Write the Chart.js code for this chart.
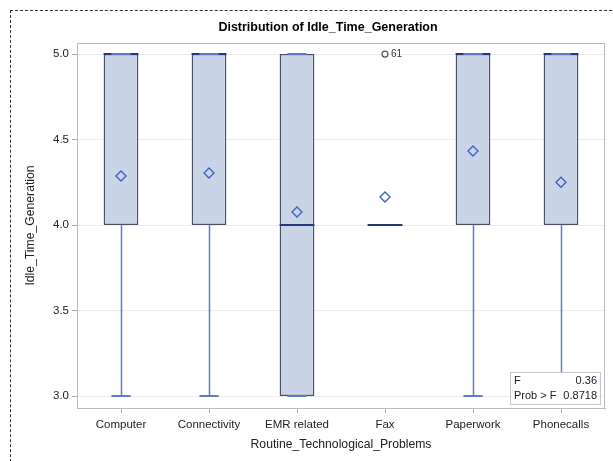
<!DOCTYPE html>
<html>
<head>
<meta charset="utf-8">
<title>Distribution of Idle_Time_Generation</title>
<script src="https://cdn.jsdelivr.net/npm/chart.js@4/dist/chart.umd.min.js"></script>
<style>
  html, body { margin: 0; padding: 0; background: #fff; overflow: hidden; }
  #wrap { position: relative; width: 613px; height: 461px; }
  #frame { position: absolute; left: 10px; top: 10px; width: 660px; height: 520px;
           border: 1px dashed #333; pointer-events: none; }
  canvas { position: absolute; left: 0; top: 0; }
</style>
</head>
<body>
<div id="wrap">
  <canvas id="chart" width="613" height="461"></canvas>
  <div id="frame"></div>
</div>
<script>
// Box-plot summary per problem category
const categories  = ['Computer', 'Connectivity', 'EMR related', 'Fax', 'Paperwork', 'Phonecalls'];
const minVals     = [3, 3, 3, 4, 3, 3];
const q1Vals      = [4, 4, 3, 4, 4, 4];
const medianVals  = [5, 5, 4, 4, 5, 5];
const q3Vals      = [5, 5, 5, 4, 5, 5];
const maxVals     = [5, 5, 5, 4, 5, 5];
const meanVals    = [4.287, 4.304, 4.076, 4.164, 4.433, 4.251];
const outlierVals = [null, null, null, 5, null, null];
const outlierIds  = [null, null, null, '61', null, null];
const yTicks      = [3.0, 3.5, 4.0, 4.5, 5.0];
const statLabels  = ['F', 'Prob > F'];
const statValues  = ['0.36', '0.8718'];

const FONT = "'Liberation Sans', Arial, sans-serif";
const BOX_FILL = '#c9d5e7';
const BOX_LINE = '#4a5263';
const MEDIAN_LINE = '#22397a';
const WHISKER = '#5b7cca';
const MEAN_LINE = '#3a62c4';

// Whiskers, caps, medians, outlier labels, frame and the statistics inset
const boxExtras = {
  id: 'boxExtras',
  beforeDatasetsDraw(chart) {
    const { ctx, scales: { x, y }, chartArea: a } = chart;
    ctx.save();
    // plot frame
    ctx.strokeStyle = '#b8bcc2';
    ctx.lineWidth = 1;
    ctx.strokeRect(a.left + 0.5, a.top + 0.5, a.right - a.left - 1, a.bottom - a.top);
    // whisker stems
    ctx.strokeStyle = WHISKER;
    ctx.lineWidth = 1.5;
    categories.forEach((c, i) => {
      const cx = Math.round(x.getPixelForValue(i)) + 0.5;
      ctx.beginPath();
      ctx.moveTo(cx, y.getPixelForValue(minVals[i]));
      ctx.lineTo(cx, y.getPixelForValue(q1Vals[i]));
      ctx.moveTo(cx, y.getPixelForValue(q3Vals[i]));
      ctx.lineTo(cx, y.getPixelForValue(maxVals[i]));
      ctx.stroke();
    });
    ctx.restore();
  },
  afterDatasetsDraw(chart) {
    const { ctx, scales: { x, y }, chartArea: a } = chart;
    const boxMeta = chart.getDatasetMeta(0);
    ctx.save();
    categories.forEach((c, i) => {
      const bar = boxMeta.data[i];
      const half = bar.width / 2;
      const cx = bar.x;
      const capHalf = half * 0.55;
      const degenerate = q1Vals[i] === q3Vals[i];
      // median
      ctx.strokeStyle = MEDIAN_LINE;
      ctx.lineWidth = 2;
      const my = Math.round(y.getPixelForValue(medianVals[i]));
      ctx.beginPath();
      ctx.moveTo(cx - half, my);
      ctx.lineTo(cx + half, my);
      ctx.stroke();
      // caps
      if (!degenerate) {
        ctx.strokeStyle = WHISKER;
        ctx.lineWidth = 2;
        [minVals[i], maxVals[i]].forEach(v => {
          const yy = Math.round(y.getPixelForValue(v));
          ctx.beginPath();
          ctx.moveTo(cx - capHalf, yy);
          ctx.lineTo(cx + capHalf, yy);
          ctx.stroke();
        });
      }
      // outlier id
      if (outlierVals[i] !== null) {
        ctx.fillStyle = '#333';
        ctx.font = '10px ' + FONT;
        ctx.textAlign = 'left';
        ctx.textBaseline = 'middle';
        ctx.fillText(outlierIds[i], cx + 6, y.getPixelForValue(outlierVals[i]) + 0.5);
      }
    });

    // statistics inset
    const bw = 90, bh = 32;
    const bx = a.right - bw - 5, by = a.bottom - bh - 4;
    ctx.fillStyle = '#fff';
    ctx.fillRect(bx, by, bw, bh);
    ctx.strokeStyle = '#c4c7cc';
    ctx.lineWidth = 1;
    ctx.strokeRect(bx + 0.5, by + 0.5, bw, bh);
    ctx.fillStyle = '#222';
    ctx.font = '11px ' + FONT;
    ctx.textBaseline = 'middle';
    statLabels.forEach((lab, k) => {
      const ty = by + 9 + k * 15;
      ctx.textAlign = 'left';
      ctx.fillText(lab, bx + 4, ty);
      ctx.textAlign = 'right';
      ctx.fillText(statValues[k], bx + bw - 3, ty);
    });

    // chart title
    ctx.fillStyle = '#000';
    ctx.font = 'bold 12.5px ' + FONT;
    ctx.textAlign = 'center';
    ctx.textBaseline = 'middle';
    ctx.fillText('Distribution of Idle_Time_Generation', 328, 28);
    ctx.restore();
  }
};

new Chart(document.getElementById('chart'), {
  data: {
    labels: categories,
    datasets: [
      {
        type: 'bar',
        label: 'Box',
        data: q1Vals.map((q, i) => [q, q3Vals[i]]),
        backgroundColor: BOX_FILL,
        borderColor: BOX_LINE,
        borderWidth: 1.5,
        borderSkipped: false,
        barPercentage: 0.395,
        categoryPercentage: 1.0,
        order: 3
      },
      {
        type: 'line',
        label: 'Mean',
        data: meanVals,
        showLine: false,
        pointStyle: 'rectRot',
        pointRadius: 5,
        pointBorderWidth: 1.4,
        pointBorderColor: MEAN_LINE,
        pointBackgroundColor: 'rgba(0,0,0,0)',
        order: 1
      },
      {
        type: 'line',
        label: 'Outlier',
        data: outlierVals,
        showLine: false,
        spanGaps: false,
        pointStyle: 'circle',
        pointRadius: 3,
        pointBorderWidth: 1.2,
        pointBorderColor: '#555',
        pointBackgroundColor: 'rgba(0,0,0,0)',
        order: 2
      }
    ]
  },
  options: {
    responsive: false,
    animation: false,
    events: [],
    layout: { padding: { left: 23, top: 43, right: 8, bottom: 9 } },
    plugins: {
      legend: { display: false },
      tooltip: { enabled: false },
      title: { display: false }
    },
    scales: {
      x: {
        type: 'category',
        offset: true,
        grid: { offset: false, drawOnChartArea: false, drawTicks: true, tickLength: 5, tickColor: '#a8acb2' },
        border: { color: '#b8bcc2' },
        ticks: { color: '#222', font: { family: FONT, size: 11.5 }, padding: 5, maxRotation: 0 },
        title: { display: true, text: 'Routine_Technological_Problems', color: '#222',
                 font: { family: FONT, size: 12.2 }, padding: 0 },
        afterFit(scale) { scale.height = 44; }
      },
      y: {
        type: 'linear',
        min: 2.93,
        max: 5.065,
        afterBuildTicks(scale) { scale.ticks = yTicks.map(v => ({ value: v })); },
        grid: { color: '#ececec', lineWidth: 1, drawTicks: true, tickLength: 5, tickColor: '#a8acb2' },
        border: { color: '#b8bcc2' },
        ticks: { color: '#222', font: { family: FONT, size: 11.5 }, padding: 3,
                 callback: v => Number(v).toFixed(1) },
        title: { display: true, text: 'Idle_Time_Generation', color: '#222',
                 font: { family: FONT, size: 12.2 }, padding: 0 },
        afterFit(scale) { scale.width = 54; }
      }
    }
  },
  plugins: [boxExtras]
});
</script>
</body>
</html>
